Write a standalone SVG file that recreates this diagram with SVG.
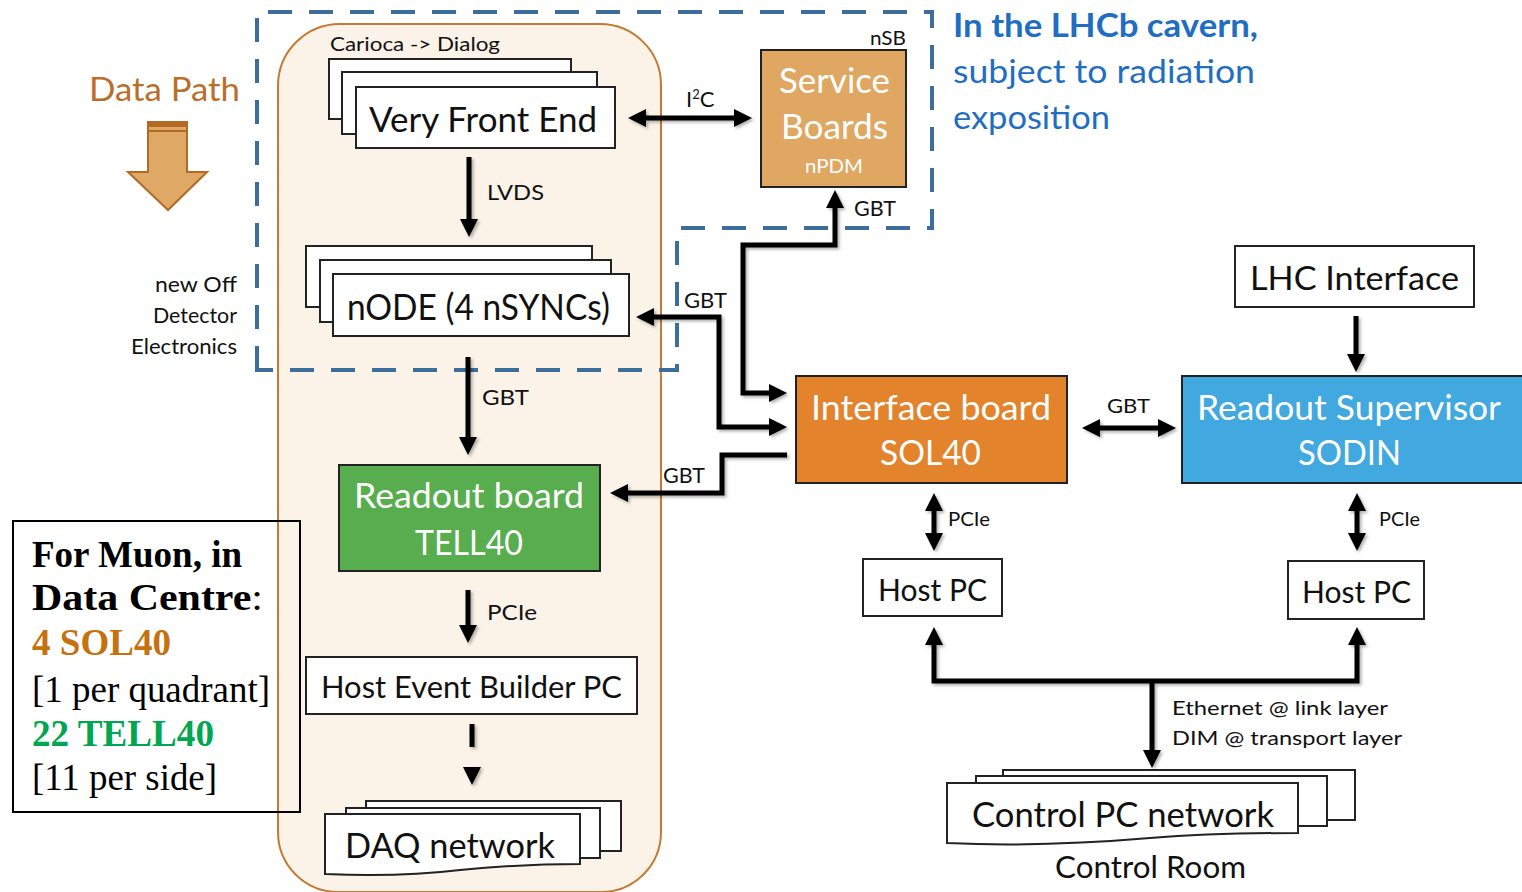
<svg xmlns="http://www.w3.org/2000/svg" width="1522" height="892" viewBox="0 0 1522 892">
<style>
.t{font-family:Lato,"Open Sans","Liberation Sans",sans-serif;fill:#111}
.w{fill:#fff}
.box{fill:#fff;stroke:#222;stroke-width:2}
.conn{fill:none;stroke:#000;stroke-width:5;stroke-linejoin:miter}
.tm{font-family:"Liberation Serif","Times New Roman",serif;font-size:37px;fill:#000}
.blue{fill:#1F6EC1}
</style>
<defs>
<marker id="ah" viewBox="0 0 10 10" refX="0" refY="5" markerWidth="18" markerHeight="18" markerUnits="userSpaceOnUse" orient="auto-start-reverse">
<path d="M0,0 L10,5 L0,10 z" fill="#000"/>
</marker>
<filter id="sh" x="-20%" y="-20%" width="140%" height="140%">
<feDropShadow dx="2" dy="2" stdDeviation="1.5" flood-color="#000" flood-opacity="0.3"/>
</filter>
</defs>
<rect width="1522" height="892" fill="#fff"/>

<!-- background regions -->
<g id="detector-region">
<path d="M340,24 H600 A61,61 0 0 1 661,85 V832 A60,60 0 0 1 601,892 H338 A60,60 0 0 1 278,832 V85 A62,62 0 0 1 340,24 Z" fill="#FBF3E8" stroke="#C47A35" stroke-width="2"/>
</g>
<g id="cavern-region">
<path d="M257,370 V12 H932 V228 H677 V370 Z" fill="none" stroke="#3D6E9B" stroke-width="4" stroke-dasharray="24,17"/>
</g>

<!-- Data path -->
<g id="data-path">
<text class="t" x="89" y="101" font-size="32" style="fill:#B96F2A" textLength="151" lengthAdjust="spacingAndGlyphs">Data Path</text>
<polygon points="148,122 187,122 187,172 207,172 168,210 128,172 148,172" fill="#E0A865" stroke="#B26A25" stroke-width="2"/>
<rect x="148" y="121" width="39" height="6" fill="#B26A25"/>
<line x1="148" y1="131" x2="187" y2="131" stroke="#B26A25" stroke-width="2"/>
</g>

<g id="ode-label">
<text class="t" x="155" y="292" font-size="21" textLength="82" lengthAdjust="spacingAndGlyphs">new  Off</text>
<text class="t" x="153" y="323" font-size="21" textLength="84" lengthAdjust="spacingAndGlyphs">Detector</text>
<text class="t" x="131" y="354" font-size="21" textLength="106" lengthAdjust="spacingAndGlyphs">Electronics</text>
</g>

<g id="cavern-label">
<text class="t blue" x="953" y="37" font-size="32" font-weight="bold" textLength="305" lengthAdjust="spacingAndGlyphs">In the LHCb cavern,</text>
<text class="t blue" x="953" y="83" font-size="32" textLength="302" lengthAdjust="spacingAndGlyphs">subject to radiation</text>
<text class="t blue" x="953" y="129" font-size="32" textLength="157" lengthAdjust="spacingAndGlyphs">exposition</text>
</g>

<!-- Muon info box -->
<g id="muon-box">
<rect x="13" y="521" width="287" height="291" fill="none" stroke="#000" stroke-width="2"/>
<text class="tm" x="32" y="567" font-weight="bold" textLength="210" lengthAdjust="spacingAndGlyphs">For Muon, in</text>
<text class="tm" x="32" y="610" textLength="231" lengthAdjust="spacingAndGlyphs"><tspan font-weight="bold">Data Centre</tspan>:</text>
<text class="tm" x="32" y="655" font-weight="bold" style="fill:#C5710E" textLength="139" lengthAdjust="spacingAndGlyphs">4 SOL40</text>
<text class="tm" x="32" y="702" textLength="238" lengthAdjust="spacingAndGlyphs">[1 per quadrant]</text>
<text class="tm" x="32" y="746" font-weight="bold" style="fill:#00A650" textLength="182" lengthAdjust="spacingAndGlyphs">22 TELL40</text>
<text class="tm" x="32" y="790" textLength="185" lengthAdjust="spacingAndGlyphs">[11 per side]</text>
</g>

<!-- Very Front End -->
<g id="vfe">
<text class="t" x="330" y="51" font-size="20" textLength="170" lengthAdjust="spacingAndGlyphs">Carioca  -&gt; Dialog</text>
<rect class="box" x="329" y="59" width="242" height="60"/>
<rect class="box" x="342" y="72" width="255" height="62"/>
<rect class="box" x="356" y="87" width="259" height="61"/>
<text class="t" x="369" y="132" font-size="34" textLength="228" lengthAdjust="spacingAndGlyphs">Very Front End</text>
</g>

<!-- nODE -->
<g id="node">
<rect class="box" x="306" y="246" width="286" height="61"/>
<rect class="box" x="320" y="260" width="291" height="62"/>
<rect class="box" x="333" y="274" width="296" height="62"/>
<text class="t" x="347" y="320" font-size="36" textLength="263" lengthAdjust="spacingAndGlyphs">nODE (4 nSYNCs)</text>
</g>

<!-- TELL40 -->
<g id="tell40">
<rect x="339" y="465" width="261" height="106" fill="#58AE4E" stroke="#222" stroke-width="2"/>
<text class="t w" x="354" y="508" font-size="34" style="fill:#fff" textLength="230" lengthAdjust="spacingAndGlyphs">Readout board</text>
<text class="t w" x="415" y="555" font-size="34" style="fill:#fff" textLength="108" lengthAdjust="spacingAndGlyphs">TELL40</text>
</g>

<!-- Host Event Builder -->
<g id="hebpc">
<rect class="box" x="306" y="657" width="331" height="57"/>
<text class="t" x="321" y="698" font-size="30" textLength="301" lengthAdjust="spacingAndGlyphs">Host Event Builder PC</text>
</g>

<!-- DAQ network -->
<g id="daq">
<rect class="box" x="366" y="801" width="255" height="50"/>
<rect class="box" x="346" y="808" width="254" height="50"/>
<path class="box" d="M325,814 H580 V864 C540,864 500,866 460,870 C410,876 370,876 325,874 Z"/>
<text class="t" x="345" y="858" font-size="34" textLength="210" lengthAdjust="spacingAndGlyphs">DAQ network</text>
</g>

<!-- Service boards -->
<g id="service-boards">
<text class="t" x="870" y="45" font-size="20" textLength="36" lengthAdjust="spacingAndGlyphs">nSB</text>
<rect x="761" y="50" width="145" height="137" fill="#DFA762" stroke="#222" stroke-width="2"/>
<text class="t w" x="779" y="93" font-size="34" style="fill:#fff" textLength="111" lengthAdjust="spacingAndGlyphs">Service</text>
<text class="t w" x="781" y="139" font-size="34" style="fill:#fff" textLength="107" lengthAdjust="spacingAndGlyphs">Boards</text>
<text class="t w" x="805" y="173" font-size="20" style="fill:#fff" textLength="58" lengthAdjust="spacingAndGlyphs">nPDM</text>
</g>

<!-- Interface board -->
<g id="sol40">
<rect x="796" y="376" width="271" height="107" fill="#E3832C" stroke="#222" stroke-width="2"/>
<text class="t w" x="811" y="420" font-size="34" style="fill:#fff" textLength="240" lengthAdjust="spacingAndGlyphs">Interface board</text>
<text class="t w" x="880" y="465" font-size="34" style="fill:#fff" textLength="101" lengthAdjust="spacingAndGlyphs">SOL40</text>
</g>

<!-- SODIN -->
<g id="sodin">
<rect x="1182" y="376" width="345" height="107" fill="#41A8E0" stroke="#222" stroke-width="2"/>
<text class="t w" x="1197" y="420" font-size="34" style="fill:#fff" textLength="304" lengthAdjust="spacingAndGlyphs">Readout Supervisor</text>
<text class="t w" x="1298" y="465" font-size="34" style="fill:#fff" textLength="103" lengthAdjust="spacingAndGlyphs">SODIN</text>
</g>

<!-- LHC Interface -->
<g id="lhc">
<rect class="box" x="1235" y="246" width="239" height="61"/>
<text class="t" x="1250" y="290" font-size="32" textLength="209" lengthAdjust="spacingAndGlyphs">LHC Interface</text>
</g>

<!-- Host PCs -->
<g id="hostpc-left">
<rect class="box" x="863" y="559" width="139" height="57"/>
<text class="t" x="878" y="601" font-size="30" textLength="109" lengthAdjust="spacingAndGlyphs">Host PC</text>
</g>
<g id="hostpc-right">
<rect class="box" x="1288" y="561" width="136" height="58"/>
<text class="t" x="1302" y="603" font-size="30" textLength="109" lengthAdjust="spacingAndGlyphs">Host PC</text>
</g>

<!-- Control PC network -->
<g id="control-net">
<rect class="box" x="1003" y="770" width="352" height="50"/>
<rect class="box" x="976" y="776" width="351" height="50"/>
<path class="box" d="M947,783 H1298 V833 C1250,833 1200,834 1150,838 C1080,844 1010,846 947,843 Z"/>
<text class="t" x="972" y="827" font-size="34" textLength="302" lengthAdjust="spacingAndGlyphs">Control PC network</text>
<text class="t" x="1055" y="878" font-size="30" textLength="191" lengthAdjust="spacingAndGlyphs">Control Room</text>
</g>

<!-- connectors -->
<g id="connectors" filter="url(#sh)">
<path class="conn" d="M469,157 V219" marker-end="url(#ah)"/>
<path class="conn" d="M468,357 V437" marker-end="url(#ah)"/>
<path class="conn" d="M468,590 V625" marker-end="url(#ah)"/>
<path class="conn" d="M472,724 V747"/>
<polygon points="463,767 481,767 472,785" fill="#000"/>
<path class="conn" d="M646,118 H734" marker-start="url(#ah)" marker-end="url(#ah)"/>
<path class="conn" d="M835,208 V245 H743 V393 H769" marker-start="url(#ah)" marker-end="url(#ah)"/>
<path class="conn" d="M654,317 H719 V427 H769" marker-start="url(#ah)" marker-end="url(#ah)"/>
<path class="conn" d="M787,455 H722 V493 H628" marker-end="url(#ah)"/>
<path class="conn" d="M1100,428 H1158" marker-start="url(#ah)" marker-end="url(#ah)"/>
<path class="conn" d="M1356,316 V354" marker-end="url(#ah)"/>
<path class="conn" d="M934,511 V533" marker-start="url(#ah)" marker-end="url(#ah)"/>
<path class="conn" d="M1357,511 V533" marker-start="url(#ah)" marker-end="url(#ah)"/>
<path class="conn" d="M934,645 V681 H1357 V645" marker-start="url(#ah)" marker-end="url(#ah)"/>
<path class="conn" d="M1152,681 V750" marker-end="url(#ah)"/>
</g>

<!-- connector labels -->
<g id="connector-labels">
<text class="t" x="487" y="200" font-size="22" textLength="57" lengthAdjust="spacingAndGlyphs">LVDS</text>
<text class="t" x="686" y="107" font-size="22">I<tspan font-size="13" dy="-8">2</tspan><tspan dy="8">C</tspan></text>
<text class="t" x="854" y="216" font-size="21" textLength="42" lengthAdjust="spacingAndGlyphs">GBT</text>
<text class="t" x="684" y="308" font-size="21" textLength="43" lengthAdjust="spacingAndGlyphs">GBT</text>
<text class="t" x="482" y="405" font-size="22" textLength="47" lengthAdjust="spacingAndGlyphs">GBT</text>
<text class="t" x="663" y="483" font-size="21" textLength="42" lengthAdjust="spacingAndGlyphs">GBT</text>
<text class="t" x="1107" y="413" font-size="20" textLength="43" lengthAdjust="spacingAndGlyphs">GBT</text>
<text class="t" x="487" y="620" font-size="22" textLength="50" lengthAdjust="spacingAndGlyphs">PCIe</text>
<text class="t" x="948" y="526" font-size="20" textLength="42" lengthAdjust="spacingAndGlyphs">PCIe</text>
<text class="t" x="1379" y="526" font-size="20" textLength="41" lengthAdjust="spacingAndGlyphs">PCIe</text>
<text class="t" x="1172" y="715" font-size="20" textLength="216" lengthAdjust="spacingAndGlyphs">Ethernet  @ link layer</text>
<text class="t" x="1172" y="745" font-size="20" textLength="230" lengthAdjust="spacingAndGlyphs">DIM  @ transport  layer</text>
</g>
</svg>
